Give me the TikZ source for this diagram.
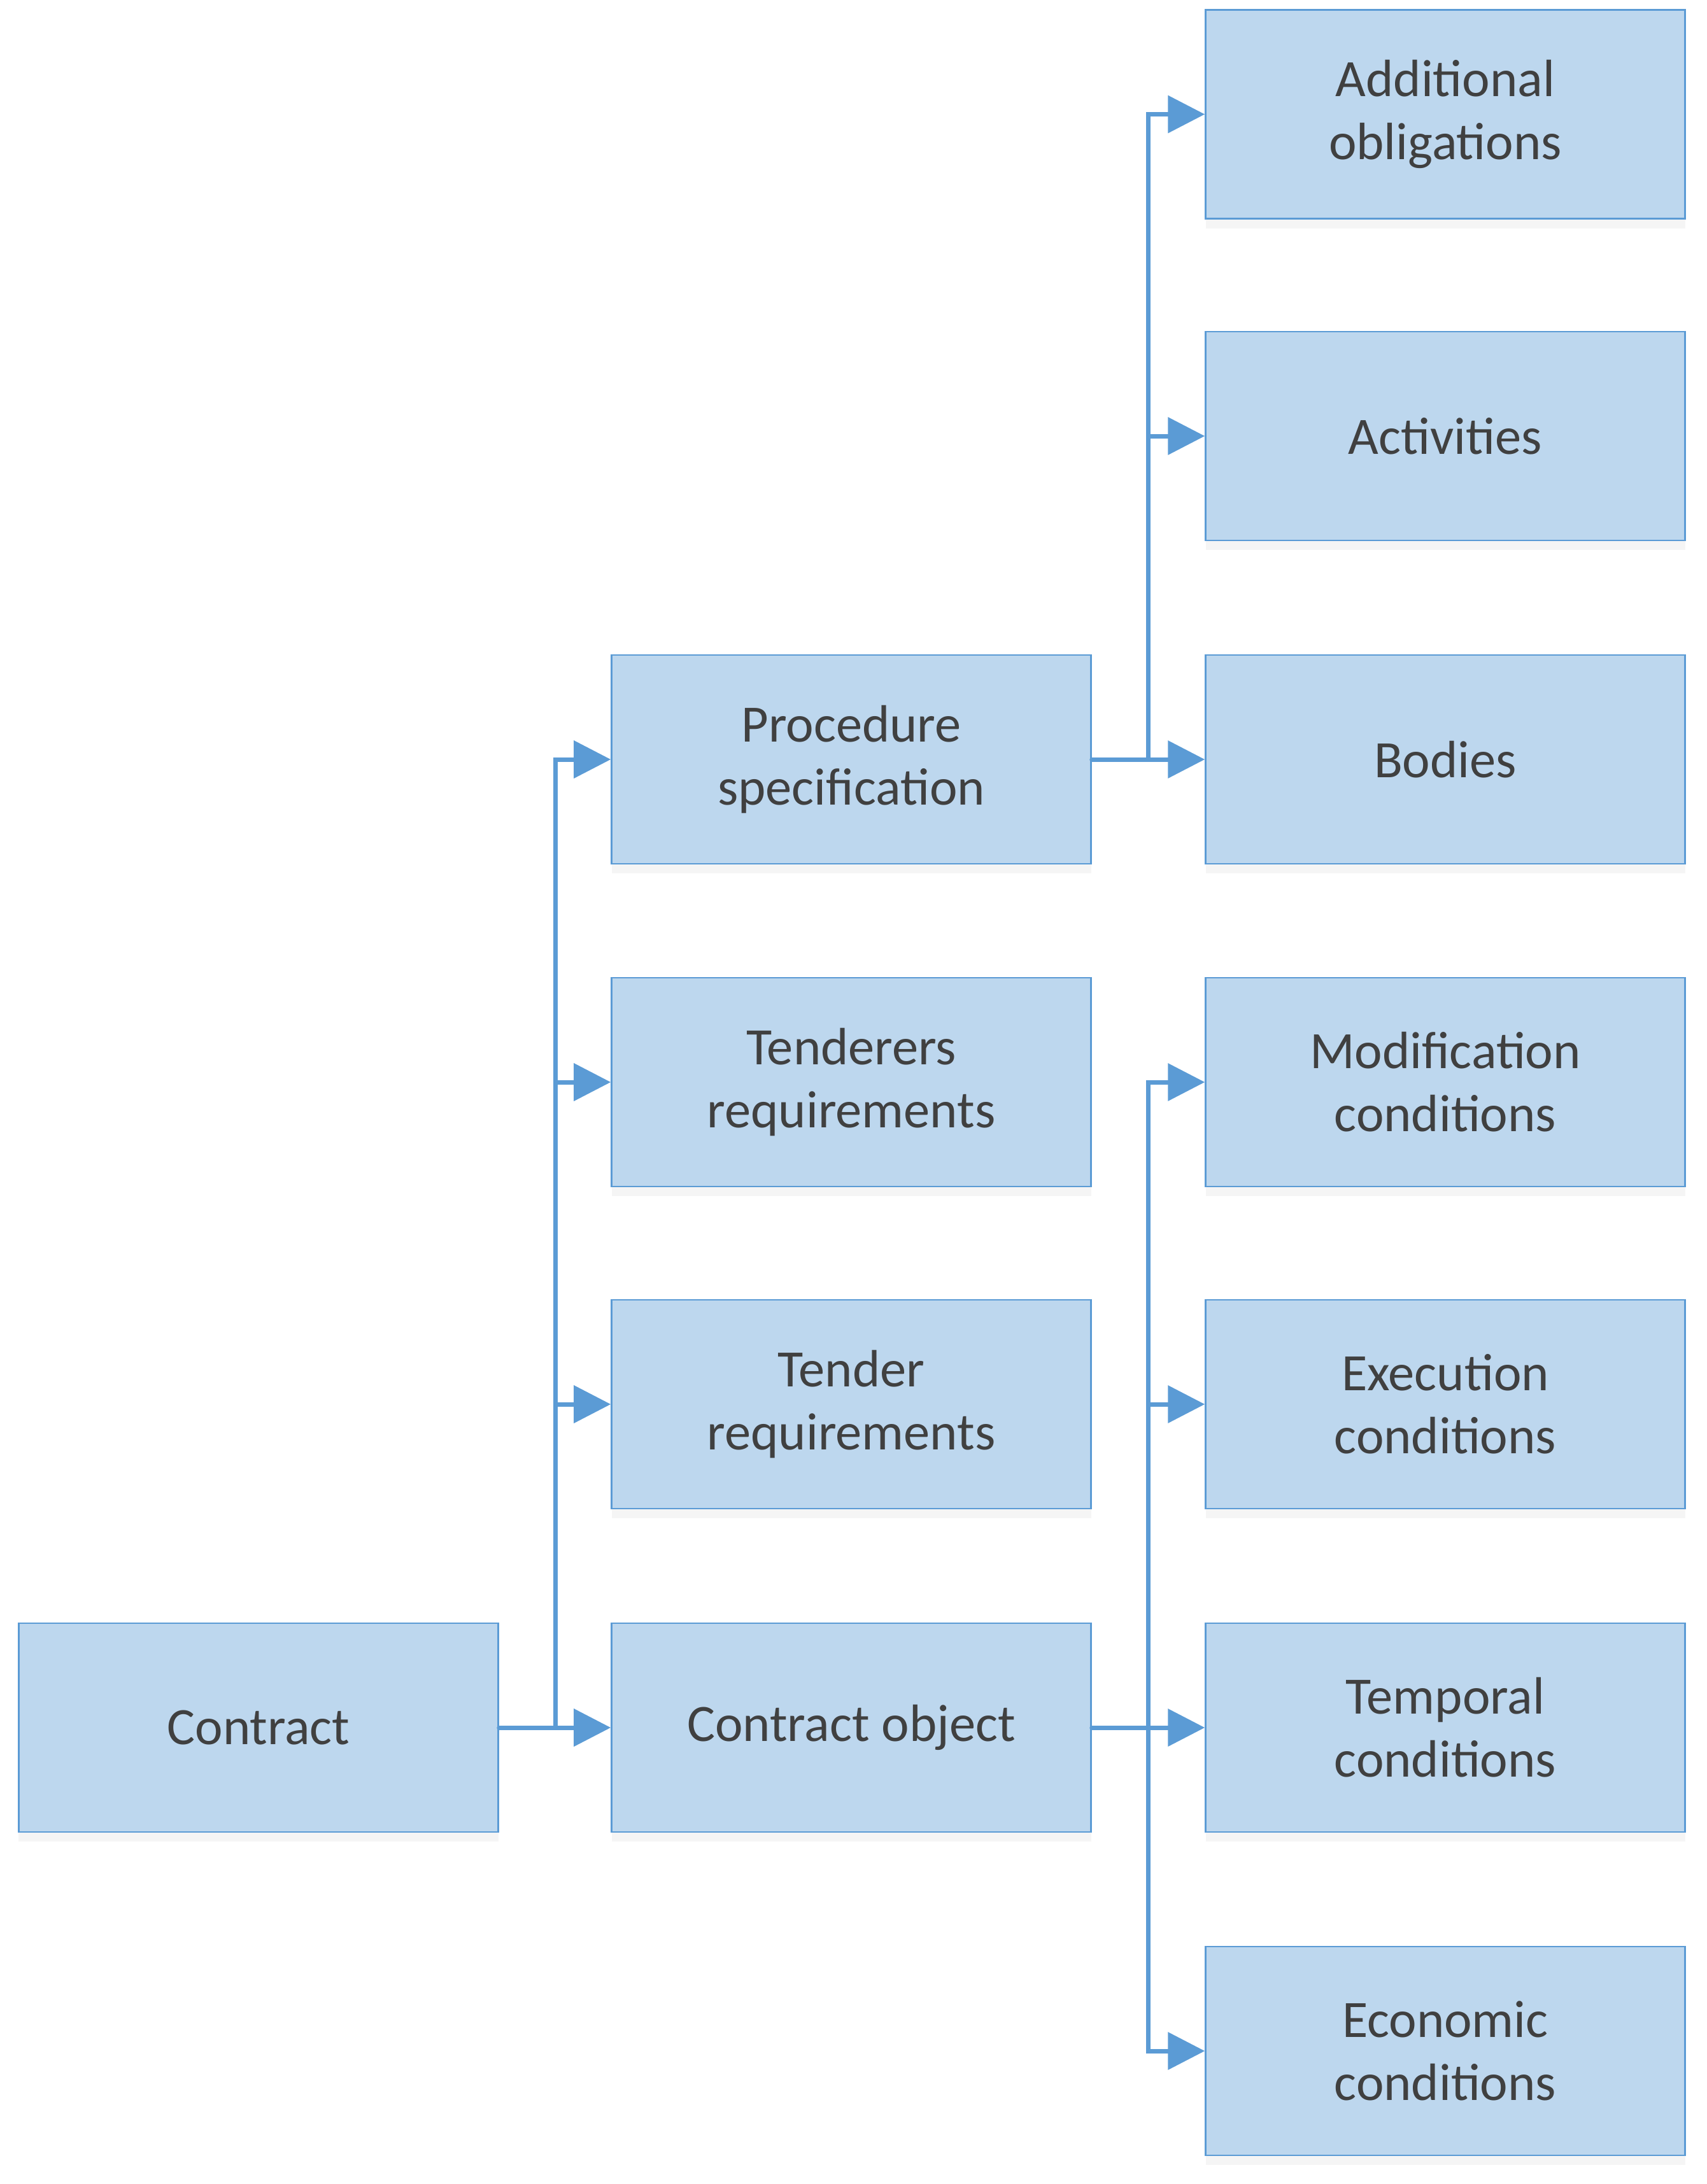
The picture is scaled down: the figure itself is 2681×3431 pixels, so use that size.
\documentclass[tikz,border=0pt]{standalone}
\usepackage{fontspec}
\setmainfont{Carlito}
\usepackage{tikz}
\usetikzlibrary{arrows.meta,shadows}
\definecolor{boxfill}{HTML}{BDD7EE}
\definecolor{boxline}{HTML}{5B9BD5}
\definecolor{txt}{HTML}{404040}

\begin{document}
\begin{tikzpicture}[x=0.2pt, y=-0.2pt]
\tikzstyle{every node}=[rectangle, draw=boxline, line width=0.5pt, fill=boxfill,
                        minimum width=150.6pt, minimum height=65.6pt, inner sep=2pt,
                        align=center, text=txt, font=\fontsize{16.5}{19.8}\selectfont,
                        drop shadow={opacity=0.08, shadow xshift=0pt, shadow yshift=-3pt}]
\tikzstyle{ln}=[draw=boxline, line width=1.4pt, line cap=round]
\tikzstyle{arr}=[ln, -{Triangle[length=11.6pt,width=11.6pt]}]
\useasboundingbox (0,0) rectangle (2681,3431);
\node (contract) at (406,2714) {Contract};
\node (procspec) at (1337,1193) {Procedure\\specification};
\node (tenderers) at (1337,1700) {Tenderers\\requirements};
\node (tender) at (1337,2206) {Tender\\requirements};
\node (object) at (1337,2714) {Contract object};
\node (addobl) at (2270,179.5) {Additional\\obligations};
\node (activ) at (2270,685) {Activities};
\node (bodies) at (2270,1193) {Bodies};
\node (modif) at (2270,1700) {Modification\\conditions};
\node (exec) at (2270,2206) {Execution\\conditions};
\node (tempo) at (2270,2714) {Temporal\\conditions};
\node (econ) at (2270,3222) {Economic\\conditions};
\coordinate (t1) at (872,2714);
\coordinate (t2) at (1803,1193);
\coordinate (t3) at (1803,2714);
\draw[ln] (contract.east) -- (t1);
\draw[arr] (t1) |- (procspec.west);
\draw[arr] (t1) |- (tenderers.west);
\draw[arr] (t1) |- (tender.west);
\draw[arr] (t1) -- (object.west);
\draw[ln] (procspec.east) -- (t2);
\draw[arr] (t2) |- (addobl.west);
\draw[arr] (t2) |- (activ.west);
\draw[arr] (t2) -- (bodies.west);
\draw[ln] (object.east) -- (t3);
\draw[arr] (t3) |- (modif.west);
\draw[arr] (t3) |- (exec.west);
\draw[arr] (t3) -- (tempo.west);
\draw[arr] (t3) |- (econ.west);
\end{tikzpicture}
\end{document}
